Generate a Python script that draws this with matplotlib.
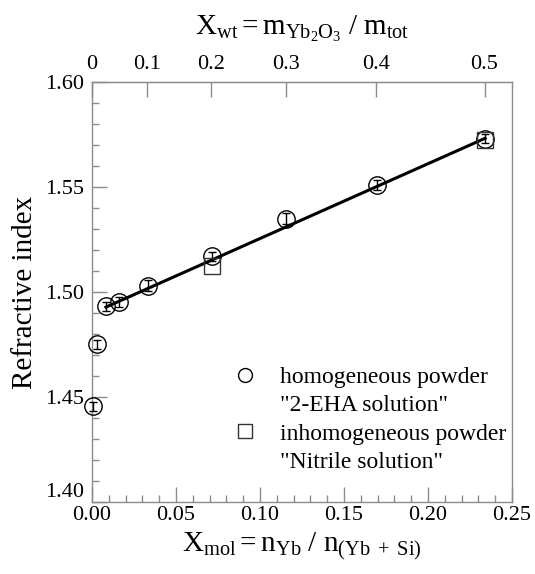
import numpy as np
import matplotlib
matplotlib.use('Agg')
import matplotlib.pyplot as plt
from matplotlib.lines import Line2D
from matplotlib.ticker import MultipleLocator, FixedLocator, FixedFormatter

plt.rcParams['font.family'] = ['Liberation Serif', 'DejaVu Serif']
plt.rcParams['mathtext.fontset'] = 'custom'
plt.rcParams['mathtext.rm'] = 'Liberation Serif'
plt.rcParams['mathtext.it'] = 'Liberation Serif:italic'

# homogeneous powder ("2-EHA solution")
homo_x = [0.0003, 0.0028, 0.0083, 0.0160, 0.0333, 0.0712, 0.1153, 0.1694, 0.2340]
homo_y = [1.4455, 1.4750, 1.4932, 1.4952, 1.5030, 1.5170, 1.5350, 1.5510, 1.5730]
homo_err = [0.0022, 0.0022, 0.0022, 0.0022, 0.0025, 0.0022, 0.0025, 0.0022, 0.0022]

# inhomogeneous powder ("Nitrile solution")
inhomo_x = [0.0712, 0.2340]
inhomo_y = [1.5125, 1.5725]

# linear fit through the homogeneous series
fit_x = [0.0083, 0.2340]
fit_y = [1.4928, 1.5732]

y_ticks = [1.40, 1.45, 1.50, 1.55, 1.60]
top_ticks = [0, 0.1, 0.2, 0.3, 0.4, 0.5]
top_labels = ['0', '0.1', '0.2', '0.3', '0.4', '0.5']

# molar masses: Yb2O3 per Yb atom, SiO2 per Si atom
M_YB = 394.08 / 2
M_SI = 60.08


def mol_to_wt(x):
    x = np.asarray(x, dtype=float)
    return M_YB * x / (M_YB * x + M_SI * (1 - x))


def wt_to_mol(w):
    w = np.asarray(w, dtype=float)
    return M_SI * w / (M_YB * (1 - w) + M_SI * w)


fig = plt.figure(figsize=(5.35, 5.74), dpi=100)
ax = fig.add_axes([92 / 535, 72 / 574, 420 / 535, 420 / 574])

spine_col = '#8c8c8c'
for s in ax.spines.values():
    s.set_color(spine_col)
    s.set_linewidth(1.0)

ax.plot(fit_x, fit_y, color='black', lw=2.2, zorder=2)

ax.errorbar(homo_x, homo_y, yerr=homo_err, fmt='none', ecolor='black',
            elinewidth=1.0, capsize=3, capthick=1.0, zorder=3, clip_on=False)
ax.plot(homo_x, homo_y, 'o', ms=12.5, mfc='none', mec='black', mew=1.0,
        zorder=3, clip_on=False)
ax.plot(inhomo_x, inhomo_y, 's', ms=11.5, mfc='none', mec='#333333', mew=1.0,
        zorder=3, clip_on=False)

ax.set_xlim(0, 0.25)
ax.set_ylim(1.40, 1.60)

ax.xaxis.set_major_locator(MultipleLocator(0.05))
ax.xaxis.set_minor_locator(MultipleLocator(0.01))
ax.yaxis.set_major_locator(FixedLocator(y_ticks))
ax.yaxis.set_minor_locator(MultipleLocator(0.01))
ax.xaxis.set_major_formatter(plt.FormatStrFormatter('%.2f'))
ax.yaxis.set_major_formatter(plt.FormatStrFormatter('%.2f'))

ax.tick_params(which='both', direction='in', color=spine_col, labelsize=16,
               top=False, right=False)
ax.tick_params(which='major', length=11, width=1.0)
ax.tick_params(which='minor', length=5, width=1.0)
ax.tick_params(axis='x', pad=3)
ax.tick_params(axis='y', pad=6)

sec = ax.secondary_xaxis('top', functions=(mol_to_wt, wt_to_mol))
sec.xaxis.set_major_locator(FixedLocator(top_ticks))
sec.xaxis.set_major_formatter(FixedFormatter(top_labels))
sec.xaxis.set_minor_locator(FixedLocator([]))
sec.tick_params(direction='in', length=11, width=1.0, color=spine_col,
                labelsize=16, pad=6)
sec.spines['top'].set_color(spine_col)

sec.set_xlabel(r'$\mathrm{X_{wt} = m_{Yb_2O_3}\ /\ m_{tot}}$', fontsize=21, labelpad=14)
ax.set_xlabel(r'$\mathrm{X_{mol} = n_{Yb}\ /\ n_{(Yb\ +\ Si)}}$', fontsize=21, labelpad=4)
ax.set_ylabel('Refractive index', fontsize=21, labelpad=5)

blank = Line2D([], [], ls='none', marker='none')
handles = [
    Line2D([], [], ls='none', marker='o', ms=10, mfc='none', mec='black', mew=1.0),
    blank,
    Line2D([], [], ls='none', marker='s', ms=9.5, mfc='none', mec='#333333', mew=1.0),
    blank,
]
labels = ['homogeneous powder', '"2-EHA solution"',
          'inhomogeneous powder', '"Nitrile solution"']
ax.legend(handles, labels, loc='upper left', bbox_to_anchor=(0.336, 0.322),
          frameon=False, fontsize=17, handletextpad=1.0, labelspacing=0.28,
          handlelength=1.0, borderpad=0, borderaxespad=0)

# lift the lowest y label so it clears the 0.00 on the x axis
fig.canvas.draw()
for tick in ax.yaxis.get_major_ticks():
    if abs(tick.get_loc() - 1.40) < 1e-9:
        tick.label1.set_va('bottom')

fig.savefig('out.png', dpi=100)
